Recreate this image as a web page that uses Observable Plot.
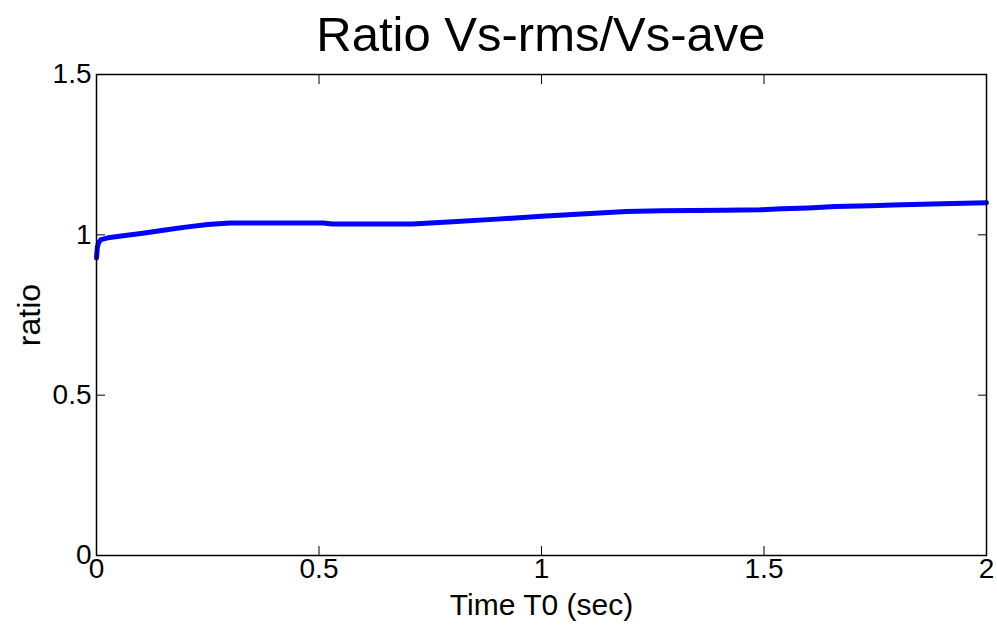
<!DOCTYPE html>
<html>
<head>
<meta charset="utf-8">
<script src="https://cdn.jsdelivr.net/npm/d3@7"></script>
<script src="https://cdn.jsdelivr.net/npm/@observablehq/plot@0.6"></script>
<style>
  html, body { margin: 0; padding: 0; background: #fff; }
  body { width: 997px; height: 625px; overflow: hidden; position: relative; font-family: "Liberation Sans", Arial, sans-serif; }
  #title { position: absolute; left: 0; top: 10px; width: 997px; box-sizing: border-box; padding-left: 96px; padding-right: 11px;
           text-align: center; font-size: 49px; line-height: 49px; color: #000; white-space: nowrap; z-index: 2; }
  #chart { position: absolute; left: 0; top: 40px; }
  svg { display: block; }
</style>
</head>
<body>
<div id="title">Ratio Vs-rms/Vs-ave</div>
<div id="chart"></div>
<script>
const titleText = "Ratio Vs-rms/Vs-ave";
const xLabel = "Time T0 (sec)";
const yLabel = "ratio";
const xTicks = [0, 0.5, 1, 1.5, 2];
const yTicks = [0, 0.5, 1, 1.5];
const time  = [0, 0.002, 0.005, 0.01, 0.03, 0.06, 0.1, 0.15, 0.2, 0.25, 0.3, 0.4, 0.51, 0.53, 0.6, 0.71, 0.75, 0.8, 0.9, 1.0, 1.06, 1.19, 1.27, 1.41, 1.49, 1.54, 1.6, 1.66, 1.74, 1.79, 1.9, 2.0];
const ratio = [0.928, 0.962, 0.976, 0.985, 0.992, 0.997, 1.004, 1.014, 1.024, 1.032, 1.037, 1.037, 1.037, 1.034, 1.034, 1.034, 1.037, 1.041, 1.049, 1.058, 1.063, 1.073, 1.075, 1.077, 1.078, 1.081, 1.084, 1.088, 1.091, 1.093, 1.097, 1.100];

const data = time.map((t, i) => ({t, r: ratio[i]}));
const fmt = d => String(d);

const chart = Plot.plot({
  width: 997,
  height: 585,
  marginTop: 34,
  marginBottom: 70,
  marginLeft: 96,
  marginRight: 11,
  style: {fontFamily: "'Liberation Sans', Arial, sans-serif", color: "#000", background: "none"},
  x: {domain: [0, 2]},
  y: {domain: [0, 1.5]},
  marks: [
    Plot.line(data, {x: "t", y: "r", stroke: "#0000ff", strokeWidth: 5}),
    Plot.frame({stroke: "#000", strokeWidth: 1.5}),
    Plot.axisX(xTicks, {anchor: "bottom", tickSize: -9, tickPadding: 9 + 3, tickFormat: fmt, fontSize: 28, label: null}),
    Plot.axisX(xTicks, {anchor: "top", tickSize: -9, tickFormat: () => "", label: null}),
    Plot.axisY(yTicks, {anchor: "left", tickSize: -9, tickPadding: 9 + 5, tickFormat: fmt, fontSize: 28, label: null}),
    Plot.axisY(yTicks, {anchor: "right", tickSize: -9, tickFormat: () => "", label: null}),
    Plot.text([xLabel], {text: d => d, frameAnchor: "bottom", dy: 50, fontSize: 30, lineAnchor: "middle", textAnchor: "middle"}),
    Plot.text([yLabel], {text: d => d, frameAnchor: "left", dx: -67, rotate: -90, fontSize: 32, lineAnchor: "middle", textAnchor: "middle"})
  ]
});
document.getElementById("chart").appendChild(chart);
</script>
</body>
</html>
